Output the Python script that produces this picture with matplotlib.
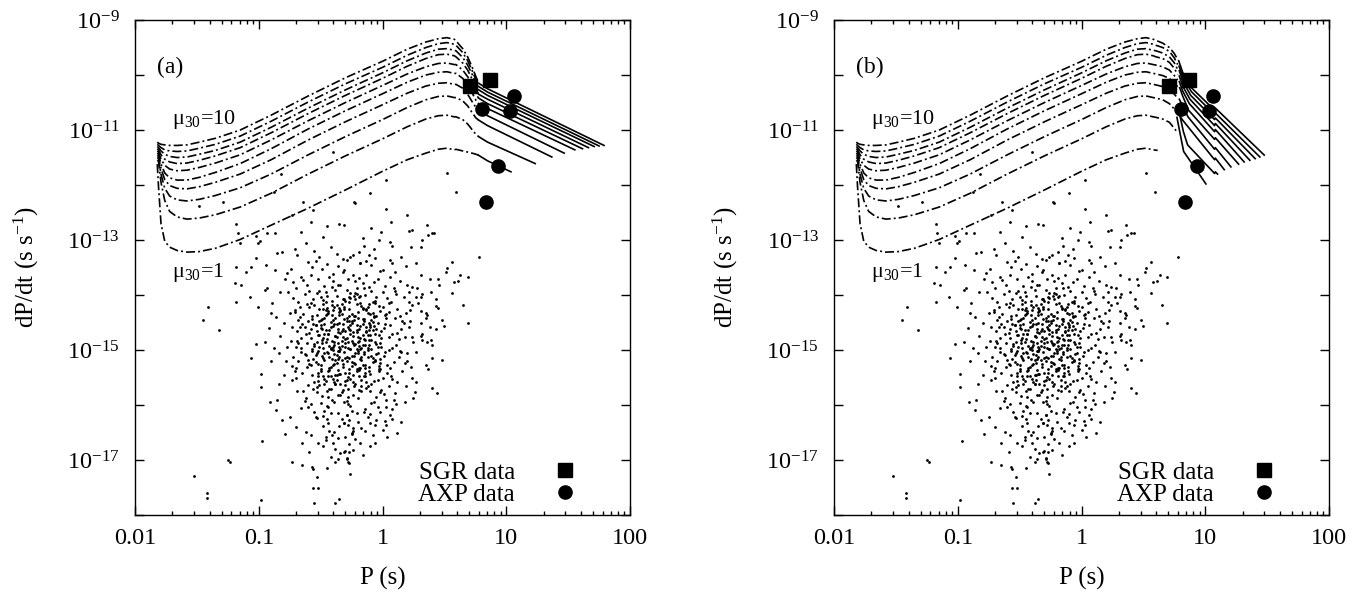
import numpy as np
import matplotlib
matplotlib.use("Agg")
import matplotlib.pyplot as plt
from matplotlib.lines import Line2D
from matplotlib.ticker import FixedLocator, LogLocator, NullFormatter, NullLocator

# Times-like text, as in the gnuplot/postscript original
plt.rcParams['font.family'] = ['Liberation Serif', 'DejaVu Serif']
plt.rcParams['mathtext.fontset'] = 'custom'
plt.rcParams['mathtext.rm'] = 'Liberation Serif'
plt.rcParams['mathtext.it'] = 'Liberation Serif:italic'
plt.rcParams['lines.scale_dashes'] = False

# ---------------- radio pulsars (log10 P [s], log10 Pdot) ----------------
psr_logp = [
    -1.52, -1.42, -1.42, -1.25, -1.23, -1.41, -1.45, -1.32, -1.18, -1.18,
    -1.18, -1.29, -1.48, -1.17, -1.01, -1.15, -1.10, -1.06, -1.02, -1.14,
    -1.07, -1.19, -0.95, -0.93, -1.01, -0.90, -0.89, -1.02, -0.88, -0.77,
    -0.79, -0.72, -0.85, -0.81, -0.69, -1.02, -0.87, -0.93, -0.99, -1.06,
    -0.98, -0.98, -0.90, -0.98, -0.97, -0.85, -0.86, -0.81, -0.79, -0.75,
    -0.73, -0.84, -0.40, -0.82, -0.88, -0.64, -0.56, -0.23, -0.10, 0.03,
    0.03, -0.73, -0.58, -0.35, 0.07, -0.09, 0.52, 0.59, 0.78, 0.20,
    0.36, 0.24, 0.40, 0.32, 0.23, 0.31, -0.01, 0.06, -0.22, -0.31,
    0.21, 0.42, 0.37, -0.16, -0.03, 0.08, -0.15, -0.07, -0.19, -0.24,
    -0.11, 0.15, 0.06, -0.29, -0.32, -0.26, 0.08, 0.19, 0.27, 0.56,
    0.52, -0.18, -0.13, -0.09, -0.06, 0.00, -0.02, 0.10, 0.31, 0.51,
    0.63, 0.69, 0.58, 0.61, 0.45, 0.38, 0.46, 0.20, 0.24, 0.28,
    0.32, 0.39, 0.56, 0.43, 0.31, 0.27, 0.29, 0.43, 0.45, 0.65,
    0.69, 0.50, 0.48, 0.43, 0.36, 0.35, 0.31, 0.35, 0.31, 0.38,
    0.39, 0.32, 0.31, 0.24, 0.32, 0.36, 0.40, 0.27, 0.40, 0.48,
    0.40, 0.44, 0.27, 0.35, 0.37, 0.25, 0.26, 0.11, 0.08, 0.03,
    -0.28, -0.29, -0.31, -0.24, -0.27, -0.18, -0.06, 0.04, -0.25, -0.17,
    -0.24, -0.06, 0.03, -0.31, -0.10, -0.05, 0.02, -0.27, 0.06, -0.29,
    -0.21, -0.15, -0.10, -0.65, -0.62, -0.65, -0.59, -0.57, -0.56, -0.53,
    -0.56, -0.52, -0.55, -0.38, -0.35, -0.45, -0.38, -0.36, -0.34, -0.30,
    -0.29, -0.27, -0.27, -0.24, -0.52, -0.48, -0.46, -0.46, -0.40, -0.36,
    -0.39, -0.43, -0.35, -0.31, -0.28, -0.25, -0.29, -0.53, -0.54, -0.48,
    -0.45, -0.44, -0.71, -0.62, -0.55, -0.48, -0.42, -0.37, -0.66, -0.51,
    -0.45, -0.60, -0.41, -0.33, -0.20, -0.14, -0.08, 0.00, -0.36, -0.12,
    -0.02, -0.48, -0.38, -0.22, -0.16, 0.08, 0.12, -0.30, -0.42, -0.10,
    -0.26, -0.66, -0.70, 0.15, 0.18, -0.58, -0.80, -0.83, -0.78, -0.76,
    -0.92, -0.86, -0.84, -0.95, -0.80, -0.87, -0.91, -0.83, -0.94, -0.77,
    -0.74, -0.70, -0.66, -0.61, -0.57, -0.72, -0.68, -0.63, -0.59, -0.56,
    -0.75, -0.71, -0.67, -0.64, -0.60, -0.73, -0.69, -0.65, -0.62, -0.58,
    -0.74, -0.70, -0.66, -0.61, -0.57, -0.72, -0.68, -0.63, -0.59, -0.56,
    -0.73, -0.70, -0.70, -0.69, -0.60, -0.60, -0.58, -0.56, -0.65, -0.62,
    -0.67, -0.63, -0.58, -0.71, -0.66, -0.61, -0.57, -0.64, -0.59, -0.68,
    -0.54, -0.49, -0.45, -0.40, -0.36, -0.52, -0.47, -0.43, -0.38, -0.53,
    -0.50, -0.46, -0.41, -0.37, -0.55, -0.51, -0.48, -0.44, -0.39, -0.35,
    -0.53, -0.49, -0.45, -0.42, -0.38, -0.54, -0.50, -0.47, -0.43, -0.40,
    -0.36, -0.52, -0.48, -0.44, -0.41, -0.37, -0.55, -0.51, -0.46, -0.42,
    -0.39, -0.35, -0.53, -0.49, -0.45, -0.41, -0.37, -0.54, -0.50, -0.47,
    -0.43, -0.39, -0.36, -0.52, -0.48, -0.44, -0.40, -0.37, -0.55, -0.51,
    -0.46, -0.42, -0.38, -0.53, -0.49, -0.45, -0.41, -0.36, -0.50, -0.44,
    -0.39, -0.47, -0.42, -0.51, -0.46, -0.40, -0.48, -0.43, -0.38, -0.52,
    -0.45, -0.41, -0.49, -0.37, -0.44, -0.50, -0.40, -0.47, -0.36, -0.53,
    -0.18, -0.31, -0.24, -0.16, -0.28, -0.21, -0.34, -0.19, -0.26, -0.30,
    -0.22, -0.33, -0.17, -0.27, -0.20, -0.35, -0.23, -0.15, -0.29, -0.25,
    -0.32, -0.18, -0.27, -0.21, -0.34, -0.16, -0.24, -0.30, -0.19, -0.28,
    -0.22, -0.33, -0.17, -0.26, -0.31, -0.20, -0.25, -0.35, -0.18, -0.29,
    -0.23, -0.16, -0.32, -0.27, -0.21, -0.34, -0.19, -0.26, -0.30, -0.22,
    -0.17, -0.28, -0.33, -0.24, -0.20, -0.31, -0.26, -0.18, -0.29, -0.23,
    -0.15, -0.34, -0.21, -0.27, -0.32, -0.19, -0.25, -0.30, -0.16, -0.22,
    -0.28, -0.35, -0.20, -0.24, -0.31, -0.17, -0.26, -0.33, -0.21, -0.29,
    -0.23, -0.18, -0.27, -0.32, -0.19, -0.25, -0.30, -0.16, -0.22, -0.34,
    -0.13, -0.04, 0.02, -0.09, -0.14, 0.04, -0.06, -0.11, 0.00, -0.02,
    -0.12, -0.07, 0.03, -0.15, -0.04, -0.10, 0.01, -0.08, -0.13, -0.03,
    0.05, -0.11, -0.06, -0.14, -0.01, -0.09, 0.02, -0.05, -0.12, -0.02,
    -0.08, 0.04, -0.14, -0.03, -0.10, 0.00, -0.07, -0.12, -0.01, -0.05,
    -0.13, -0.06, 0.01, -0.09, -0.02, -0.11, 0.03, -0.04, -0.15, -0.08,
    -0.01, -0.12, -0.05, 0.04, -0.10, -0.03, -0.07, 0.02, -0.14, -0.06,
    -0.11, 0.00, -0.04, -0.09, 0.05, -0.02, -0.13, -0.07, 0.01, -0.10,
    0.06, 0.14, 0.21, 0.09, 0.17, 0.24, 0.07, 0.12, 0.19, 0.10,
    0.22, 0.06, 0.15, 0.08, 0.18, 0.25, 0.11, 0.05, 0.20, 0.13,
    0.09, 0.23, 0.16, 0.07, 0.12, 0.19, 0.10, 0.14, 0.08, 0.21,
    0.06, 0.17, 0.11, 0.24, 0.13, 0.05, 0.20, 0.09, 0.15, 0.22,
    -0.58, -0.44, -0.31, -0.12, -0.49, -0.27, -0.05, -0.38, -0.21, -0.55,
    -0.33, -0.16, -0.47, -0.25, -0.09, -0.40, -0.60, -0.19, -0.36, -0.02,
    -0.52, -0.29, -0.14, -0.43, -0.23, -0.57, -0.07, -0.34, -0.46, -0.18,
    -0.39, -0.26, -0.51, -0.11, -0.30, -0.42, -0.20, -0.04, -0.35, -0.48,
    -0.24, -0.13, -0.56, -0.37, -0.28, -0.45, -0.15, -0.32, -0.01, -0.50,
    -0.41, -0.22, -0.06, -0.34, -0.53, -0.17, -0.29, -0.44, -0.10, -0.37,
    -0.27, -0.48, -0.19, -0.39, -0.08, -0.31, -0.59, -0.14, -0.25, -0.43,
    -0.35, -0.21, -0.47, -0.03, -0.30, -0.12, -0.54, -0.38, -0.17, -0.26,
    -0.45, -0.32, -0.09, -0.23, -0.40, -0.57, -0.13, -0.28, -0.50, -0.20,
    -0.36, -0.16, -0.42, -0.05, -0.27, -0.52, -0.33, -0.11, -0.46, -0.24,
    -0.68, -0.07, 0.12, -0.62, 0.18, -0.71, 0.08, -0.66, 0.21, -0.64,
    0.02, -0.69, 0.14, -0.61, 0.05, -0.73, 0.16, -0.63, 0.10, -0.67,
    -0.14, -0.45, -0.28, 0.03, -0.51, -0.19, -0.36, -0.04, -0.58, -0.25,
    -0.40, -0.09, -0.32, -0.55, -0.15, -0.44, -0.21, -0.02, -0.48, -0.30,
    -0.37, -0.11, -0.26, -0.53, -0.18, -0.42, -0.06, -0.34, -0.22, -0.47,
    -0.29, -0.13, -0.39, -0.57, -0.20, -0.35, -0.08, -0.44, -0.27, -0.16,
    -0.49, -0.23, -0.38, -0.12, -0.31, -0.54, -0.19, -0.41, -0.03, -0.28,
    -0.33, -0.17, -0.46, -0.24, -0.10, -0.38, -0.52, -0.14, -0.30, -0.43,
    -0.21, -0.36, -0.05, -0.47, -0.26, -0.15, -0.40, -0.32, -0.58, -0.11,
    -0.25, -0.42, -0.08, -0.35, -0.18, -0.50, -0.29, -0.13, -0.39, -0.22,
]
psr_logpdot = [
    -17.29, -17.60, -17.69, -17.00, -17.04, -14.22, -14.45, -14.64, -14.13, -13.49,
    -12.71, -12.30, -12.38, -12.87, -13.06, -13.05, -13.58, -13.49, -13.33, -13.82,
    -14.03, -13.79, -13.91, -13.87, -14.21, -14.33, -14.15, -14.89, -14.96, -13.60,
    -13.71, -13.76, -13.24, -13.22, -13.27, -12.93, -12.88, -12.87, -13.01, -15.15,
    -15.44, -15.67, -15.20, -17.73, -16.65, -15.91, -16.09, -16.27, -16.53, -16.22,
    -17.04, -15.62, -11.40, -11.80, -12.12, -12.30, -12.46, -12.30, -12.15, -11.90,
    -12.44, -12.55, -12.67, -12.71, -12.67, -12.79, -11.78, -12.13, -13.31, -12.55,
    -12.73, -12.82, -12.87, -13.00, -13.12, -13.13, -12.85, -13.03, -12.33, -12.72,
    -12.83, -12.88, -12.91, -12.97, -13.00, -13.10, -13.11, -13.16, -13.22, -13.27,
    -13.27, -13.31, -13.36, -13.36, -13.35, -13.31, -13.41, -13.47, -13.42, -13.40,
    -13.50, -13.42, -13.39, -13.45, -13.33, -13.54, -13.56, -13.59, -13.64, -13.58,
    -13.64, -13.67, -13.76, -13.74, -13.70, -13.71, -13.82, -13.82, -13.85, -13.88,
    -13.99, -13.94, -13.97, -14.08, -14.03, -14.03, -14.14, -14.20, -14.24, -14.18,
    -14.51, -14.56, -14.45, -14.62, -14.36, -14.33, -14.29, -14.42, -14.50, -14.58,
    -14.82, -14.70, -14.75, -14.76, -14.82, -14.85, -14.91, -15.04, -15.15, -15.18,
    -15.69, -15.79, -15.58, -15.27, -15.35, -15.87, -15.76, -15.99, -16.07, -16.04,
    -17.04, -16.97, -16.86, -16.82, -16.86, -16.69, -16.69, -16.58, -16.53, -16.42,
    -16.42, -16.36, -16.36, -16.33, -16.33, -16.27, -16.29, -16.27, -16.18, -16.18,
    -16.15, -16.12, -16.16, -17.09, -16.49, -16.69, -16.86, -17.13, -17.17, -17.31,
    -17.51, -17.51, -17.78, -17.78, -17.71, -17.15, -17.04, -16.98, -16.87, -16.84,
    -16.98, -17.06, -16.71, -16.47, -16.69, -16.75, -16.64, -16.58, -16.69, -16.60,
    -16.49, -16.47, -16.38, -16.33, -16.36, -16.51, -16.18, -16.24, -16.22, -16.20,
    -16.25, -16.33, -13.16, -13.05, -13.20, -12.95, -13.12, -13.25, -12.85, -13.30,
    -12.75, -13.40, -16.55, -16.25, -16.30, -16.48, -16.55, -16.45, -16.15, -16.22,
    -16.12, -16.38, -16.80, -16.62, -16.90, -16.25, -16.50, -16.58, -16.95, -16.75,
    -17.25, -16.05, -16.40, -16.30, -15.95, -16.55, -14.50, -14.75, -15.20, -13.95,
    -14.60, -14.40, -15.05, -14.85, -15.45, -13.55, -15.95, -13.95, -13.45, -14.95,
    -13.52, -13.88, -13.67, -13.81, -13.49, -14.05, -14.12, -13.98, -14.21, -14.07,
    -14.33, -14.27, -14.40, -14.35, -14.48, -14.58, -14.66, -14.52, -14.71, -14.62,
    -14.83, -14.95, -14.78, -14.88, -15.01, -15.12, -15.20, -15.07, -15.25, -15.16,
    -15.55, -15.51, -15.33, -15.75, -15.64, -16.04, -15.98, -15.70, -15.42, -15.87,
    -14.21, -14.59, -14.79, -15.38, -15.03, -15.31, -15.46, -13.73, -13.92, -14.87,
    -13.38, -13.52, -13.44, -13.61, -13.47, -13.71, -13.83, -13.68, -13.90, -13.97,
    -14.04, -13.95, -14.10, -14.02, -14.18, -14.25, -14.16, -14.29, -14.22, -14.31,
    -14.37, -14.44, -14.35, -14.49, -14.41, -14.55, -14.60, -14.52, -14.64, -14.57,
    -14.68, -14.72, -14.79, -14.70, -14.83, -14.76, -14.89, -14.94, -14.86, -14.98,
    -14.91, -15.02, -15.06, -15.11, -15.04, -15.16, -15.09, -15.22, -15.28, -15.19,
    -15.33, -15.25, -15.37, -15.41, -15.47, -15.39, -15.53, -15.45, -15.58, -15.63,
    -15.56, -15.70, -15.62, -15.77, -15.84, -15.75, -15.91, -15.81, -15.97, -16.03,
    -15.94, -16.10, -16.14, -14.47, -14.63, -14.45, -14.97, -15.13, -15.18, -15.01,
    -14.24, -14.37, -14.81, -14.53, -15.48, -15.34, -15.00, -14.41, -14.87, -14.66,
    -13.41, -13.55, -13.63, -13.79, -13.70, -13.88, -13.82, -14.03, -13.97, -14.11,
    -14.08, -14.17, -14.20, -14.26, -14.31, -14.36, -14.39, -14.44, -14.42, -14.50,
    -14.53, -14.57, -14.61, -14.64, -14.69, -14.72, -14.75, -14.80, -14.83, -14.86,
    -14.89, -14.93, -14.96, -14.99, -15.03, -15.06, -15.10, -15.13, -15.17, -15.20,
    -15.24, -15.28, -15.31, -15.35, -15.39, -15.44, -15.48, -15.52, -15.57, -15.61,
    -15.66, -15.71, -15.76, -15.82, -15.88, -15.95, -16.02, -14.14, -14.48, -14.91,
    -15.08, -14.28, -14.67, -15.15, -14.77, -15.33, -14.34, -15.41, -14.52, -15.26,
    -14.59, -15.02, -14.85, -15.46, -14.21, -15.54, -14.70, -15.19, -14.98, -13.90,
    -14.45, -14.79, -14.04, -14.62, -15.72, -15.29, -14.94, -14.25, -13.74, -15.62,
    -13.64, -13.71, -13.83, -13.92, -14.00, -14.06, -14.10, -14.17, -14.22, -14.29,
    -14.33, -14.38, -14.42, -14.47, -14.51, -14.55, -14.60, -14.64, -14.68, -14.73,
    -14.77, -14.81, -14.85, -14.90, -14.94, -14.98, -15.03, -15.07, -15.12, -15.17,
    -15.22, -15.27, -15.33, -15.38, -15.44, -15.50, -15.57, -15.65, -15.73, -15.85,
    -14.25, -14.70, -15.10, -14.45, -14.88, -15.30, -14.35, -15.55, -14.80, -14.12,
    -14.66, -15.00, -14.03, -15.42, -15.75, -14.20, -15.95, -14.53, -15.48, -15.20,
    -13.85, -13.95, -14.95, -15.62, -14.15, -15.35, -14.58, -14.40, -15.80, -14.72,
    -13.68, -13.75, -13.95, -13.87, -14.04, -14.18, -14.12, -14.26, -14.33, -14.41,
    -14.47, -14.55, -14.62, -14.70, -14.77, -14.85, -14.91, -15.00, -15.06, -15.13,
    -15.22, -15.30, -15.38, -15.47, -15.58, -15.66, -15.79, -14.38, -14.96, -14.58,
    -15.33, -14.50, -13.99, -15.50, -14.80, -14.30, -15.20, -15.90, -15.03, -14.27,
    -14.15, -14.33, -14.08, -14.21, -14.62, -14.47, -14.38, -14.74, -14.55, -14.92,
    -14.66, -14.91, -15.05, -14.83, -15.11, -15.27, -15.19, -15.36, -15.02, -15.24,
    -15.48, -15.55, -15.42, -15.71, -15.66, -14.44, -14.57, -14.29, -14.12, -14.02,
    -14.86, -14.98, -14.73, -14.64, -15.14, -15.31, -14.41, -15.06, -15.43, -15.15,
    -15.59, -14.27, -14.52, -14.19, -14.96, -14.80, -15.47, -14.07, -14.79, -15.38,
    -13.86, -13.97, -14.14, -15.81, -15.67, -15.75, -15.93, -14.70, -14.35, -15.54,
    -14.39, -14.09, -14.61, -15.07, -14.49, -14.26, -14.69, -15.28, -15.21, -14.93,
    -14.50, -14.17, -15.62, -15.34, -14.88, -14.73, -15.09, -15.45, -15.13, -14.63,
    -14.01, -15.26, -14.81, -14.02, -14.28, -14.98, -15.69, -15.85, -14.54, -15.01,
    -15.17, -14.43, -14.96, -14.61, -14.12, -15.56, -14.84, -15.39, -14.36, -14.87,
    -14.45, -13.77, -14.69, -15.09, -15.24, -14.31, -15.52, -14.97, -14.12, -15.74,
    -14.37, -14.83, -15.01, -14.16, -15.66, -15.29, -14.48, -15.93, -13.92, -14.58,
    -16.08, -16.02, -15.98, -15.91, -13.93, -13.69, -13.81, -16.04, -13.64, -16.11,
    -13.75, -15.97, -13.58, -16.12, -13.88, -15.86, -13.99, -15.77, -14.26, -14.66,
    -15.23, -14.91, -14.54, -14.85, -15.33, -14.59, -15.18, -14.99, -15.05, -14.71,
    -14.79, -15.58, -14.53, -14.39, -14.76, -14.95, -14.32, -15.05, -15.41, -14.23,
    -14.88, -15.11, -15.62, -14.97, -14.43, -14.55, -14.92, -14.18, -15.29, -15.49,
    -14.34, -15.19, -14.27, -14.68, -14.58, -14.74, -15.25, -14.81, -15.64, -15.36,
    -15.34, -14.62, -14.89, -15.52, -14.06, -15.03, -14.94, -15.73, -15.27, -14.51,
    -14.48, -15.47, -15.15, -14.23, -14.99, -14.46, -15.12, -14.65, -15.59, -14.39,
]
assert len(psr_logp) == len(psr_logpdot)

# ---------------- magnetars ----------------
sgr_p = [5.1, 7.4]
sgr_pdot = [6.2e-11, 8.2e-11]
axp_p = [11.5, 6.35, 10.7, 8.5, 6.9]
axp_pdot = [4.2e-11, 2.45e-11, 2.25e-11, 2.2e-12, 5.0e-13]

# ---------------- evolutionary tracks, mu30 = 10 ... 1 ----------------
mu_values = [10, 9, 8, 7, 6, 5, 4, 3, 2, 1]

# common dash-dot (spin-up / equilibrium) part, read on a log P grid
rise_logp = [-1.82, -1.81, -1.79, -1.76, -1.72, -1.66, -1.58, -1.48, -1.35, -1.15,
             -0.90, -0.60, -0.30, 0.00, 0.20, 0.35, 0.45, 0.52, 0.58]
rise_mu10 = [-11.22, -11.24, -11.26, -11.27, -11.28, -11.28, -11.27, -11.22, -11.15, -11.00,
             -10.73, -10.38, -10.05, -9.75, -9.53, -9.40, -9.34, -9.32, -9.35]
rise_mu9 = [-11.26, -11.28, -11.32, -11.36, -11.38, -11.39, -11.38, -11.33, -11.26, -11.11,
            -10.84, -10.49, -10.16, -9.86, -9.64, -9.50, -9.43, -9.41, -9.44]
rise_mu8 = [-11.30, -11.32, -11.38, -11.44, -11.48, -11.50, -11.49, -11.44, -11.37, -11.22,
            -10.95, -10.60, -10.27, -9.96, -9.74, -9.60, -9.53, -9.52, -9.55]
rise_mu7 = [-11.34, -11.36, -11.45, -11.53, -11.58, -11.61, -11.60, -11.55, -11.47, -11.32,
            -11.05, -10.70, -10.37, -10.06, -9.84, -9.70, -9.63, -9.62, -9.65]
rise_mu6 = [-11.38, -11.40, -11.53, -11.64, -11.71, -11.74, -11.73, -11.68, -11.60, -11.45,
            -11.18, -10.83, -10.50, -10.19, -9.98, -9.85, -9.79, -9.78, -9.81]
rise_mu5 = [-11.42, -11.44, -11.62, -11.78, -11.87, -11.91, -11.91, -11.86, -11.77, -11.61,
            -11.34, -10.98, -10.65, -10.34, -10.13, -10.00, -9.95, -9.94, -9.97]
rise_mu4 = [-11.46, -11.48, -11.70, -11.90, -12.01, -12.06, -12.07, -12.03, -11.95, -11.80,
            -11.54, -11.18, -10.85, -10.54, -10.33, -10.20, -10.15, -10.14, -10.17]
rise_mu3 = [-11.50, -11.52, -11.80, -12.06, -12.20, -12.27, -12.29, -12.26, -12.19, -12.05,
            -11.80, -11.45, -11.12, -10.81, -10.59, -10.45, -10.39, -10.38, -10.41]
rise_mu2 = [-11.55, -11.57, -11.95, -12.28, -12.48, -12.58, -12.62, -12.60, -12.54, -12.40,
            -12.15, -11.80, -11.47, -11.16, -10.94, -10.80, -10.74, -10.73, -10.76]
rise_mu1 = [-11.62, -12.03, -12.70, -13.02, -13.13, -13.19, -13.22, -13.21, -13.15, -12.99,
            -12.73, -12.42, -12.09, -11.75, -11.54, -11.42, -11.35, -11.33, -11.36]
rise_curves = [rise_mu10, rise_mu9, rise_mu8, rise_mu7, rise_mu6,
               rise_mu5, rise_mu4, rise_mu3, rise_mu2, rise_mu1]

# panel (a): dash-dot drop after the peak, then solid spin-down line
desc_a_logp = [0.594, 0.648, 0.688, 0.723, 0.755, 0.777]
desc_a_mu10 = [-9.38, -9.52, -9.67, -9.85, -10.03, -10.15]
desc_a_mu9 = [-9.46, -9.59, -9.74, -9.91, -10.09, -10.21]
desc_a_mu8 = [-9.56, -9.68, -9.82, -9.98, -10.16, -10.27]
desc_a_mu7 = [-9.67, -9.78, -9.91, -10.07, -10.24, -10.35]
desc_a_mu6 = [-9.81, -9.91, -10.03, -10.18, -10.35, -10.42]
desc_a_mu5 = [-9.97, -10.06, -10.18, -10.32, -10.46, -10.52]
desc_a_mu4 = [-10.17, -10.24, -10.35, -10.48, -10.59, -10.64]
desc_a_mu3 = [-10.41, -10.47, -10.56, -10.68, -10.78, -10.82]
desc_a_mu2 = [-10.76, -10.81, -10.89, -10.99, -11.08, -11.12]
desc_a_mu1 = [-11.35, -11.38, -11.40, -11.42, -11.44, -11.46]
desc_a_curves = [desc_a_mu10, desc_a_mu9, desc_a_mu8, desc_a_mu7, desc_a_mu6,
                 desc_a_mu5, desc_a_mu4, desc_a_mu3, desc_a_mu2, desc_a_mu1]
solid_a_mid_logp = 0.849
solid_a_mid_logpdot = [-10.25, -10.31, -10.37, -10.44, -10.52, -10.61, -10.74, -10.92, -11.22, -11.56]
solid_a_end_logp = [1.790, 1.750, 1.710, 1.664, 1.616, 1.554, 1.468, 1.368, 1.234, 1.038]
solid_a_end_logpdot = [-11.28, -11.29, -11.30, -11.32, -11.34, -11.36, -11.42, -11.49, -11.61, -11.76]

# panel (b): dash-dot drop, then steeper solid lines with a small jump near P ~ 12 s
desc_b_logp = [0.602, 0.656, 0.710, 0.750, 0.777]
desc_b_mu10 = [-9.37, -9.42, -9.50, -9.61, -9.72]
desc_b_mu9 = [-9.46, -9.50, -9.57, -9.69, -9.81]
desc_b_mu8 = [-9.56, -9.60, -9.67, -9.78, -9.90]
desc_b_mu7 = [-9.67, -9.70, -9.77, -9.88, -9.99]
desc_b_mu6 = [-9.82, -9.85, -9.91, -10.01, -10.09]
desc_b_mu5 = [-9.98, -10.01, -10.06, -10.15, -10.21]
desc_b_mu4 = [-10.18, -10.21, -10.26, -10.35, -10.42]
desc_b_mu3 = [-10.42, -10.45, -10.52, -10.62, -10.71]
desc_b_mu2 = [-10.77, -10.80, -10.86, -10.97, -11.05]
desc_b_mu1_logp = [0.615]
desc_b_mu1 = [-11.37]

solid_b_mu10 = ([0.785, 0.817, 0.892, 1.075, 1.081, 1.476], [-9.74, -9.95, -10.24, -10.64, -10.60, -11.455])
solid_b_mu9 = ([0.788, 0.817, 0.887, 1.075, 1.081, 1.441], [-9.84, -10.03, -10.30, -10.72, -10.69, -11.49])
solid_b_mu8 = ([0.790, 0.817, 0.882, 1.075, 1.081, 1.403], [-9.92, -10.11, -10.37, -10.81, -10.78, -11.52])
solid_b_mu7 = ([0.790, 0.817, 0.876, 1.075, 1.081, 1.360], [-10.02, -10.20, -10.44, -10.92, -10.88, -11.55])
solid_b_mu6 = ([0.790, 0.817, 0.871, 1.075, 1.081, 1.314], [-10.12, -10.29, -10.52, -11.03, -10.99, -11.58])
solid_b_mu5 = ([0.793, 0.817, 0.865, 1.075, 1.081, 1.269], [-10.23, -10.38, -10.64, -11.17, -11.14, -11.62])
solid_b_mu4 = ([0.790, 0.817, 0.860, 1.075, 1.081, 1.207], [-10.44, -10.56, -10.76, -11.35, -11.32, -11.67])
solid_b_mu3 = ([0.790, 0.817, 0.860, 1.075, 1.081, 1.153], [-10.73, -10.82, -10.94, -11.54, -11.51, -11.72])
solid_b_mu2 = ([0.798, 0.823, 0.857, 1.075, 1.081, 1.099], [-10.77, -11.03, -11.27, -11.79, -11.76, -11.80])
solid_b_mu1 = ([0.771, 0.796, 0.825, 1.005], [-10.77, -11.06, -11.39, -11.98])

desc_b_curves = [(desc_b_logp, desc_b_mu10), (desc_b_logp, desc_b_mu9), (desc_b_logp, desc_b_mu8),
                 (desc_b_logp, desc_b_mu7), (desc_b_logp, desc_b_mu6), (desc_b_logp, desc_b_mu5),
                 (desc_b_logp, desc_b_mu4), (desc_b_logp, desc_b_mu3), (desc_b_logp, desc_b_mu2),
                 (desc_b_mu1_logp, desc_b_mu1)]
solid_b_curves = [solid_b_mu10, solid_b_mu9, solid_b_mu8, solid_b_mu7, solid_b_mu6,
                  solid_b_mu5, solid_b_mu4, solid_b_mu3, solid_b_mu2, solid_b_mu1]

x_ticks = [0.01, 0.1, 1, 10, 100]
x_ticklabels = ['0.01', '0.1', '1', '10', '100']
y_exponents = list(range(-18, -8))

FS_TICK = 17.5
FS_LABEL = 18
DASHDOT = (0, (6.5, 2.2, 1.4, 2.2))


def setup_axes(ax, tag):
    ax.set_xscale('log')
    ax.set_yscale('log')
    ax.set_xlim(0.01, 100)
    ax.set_ylim(1e-18, 1e-9)
    ax.xaxis.set_major_locator(FixedLocator(x_ticks))
    ax.set_xticklabels(x_ticklabels)
    ax.xaxis.set_minor_locator(LogLocator(base=10, subs=np.arange(2, 10)))
    ax.xaxis.set_minor_formatter(NullFormatter())
    ax.yaxis.set_major_locator(FixedLocator([10.0 ** e for e in y_exponents]))
    ax.set_yticklabels([r'$10^{%d}$' % e if e % 2 else '' for e in y_exponents])
    ax.yaxis.set_minor_locator(NullLocator())
    ax.tick_params(which='both', direction='in', top=True, right=True, width=1.0)
    ax.tick_params(which='major', length=6.5, labelsize=FS_TICK)
    ax.tick_params(which='minor', length=3.2)
    ax.tick_params(axis='x', which='major', pad=9)
    ax.tick_params(axis='y', which='major', pad=11)
    for sp in ax.spines.values():
        sp.set_linewidth(1.0)
    ax.set_xlabel('P (s)', fontsize=FS_LABEL)
    ax.set_ylabel('dP/dt (s s$^{-1}$)', fontsize=FS_LABEL)
    ax.xaxis.set_label_coords(0.5, -0.105)
    ax.yaxis.set_label_coords(-0.19, 0.5)
    ax.text(0.045, 0.905, tag, transform=ax.transAxes, fontsize=17, va='center')
    ax.text(0.075, 0.80, 'μ$_{30}$=10', transform=ax.transAxes, fontsize=16, va='center')
    ax.text(0.075, 0.49, 'μ$_{30}$=1', transform=ax.transAxes, fontsize=16, va='center')


def draw_common(ax):
    ax.plot(10.0 ** np.array(psr_logp), 10.0 ** np.array(psr_logpdot),
            ls='none', marker='o', ms=2.0, mew=0, color='k', zorder=1)


def draw_magnetars(ax):
    ax.plot(sgr_p, sgr_pdot, ls='none', marker='s', ms=9.5, color='k', zorder=5)
    ax.plot(axp_p, axp_pdot, ls='none', marker='o', ms=9.5, color='k', zorder=5)
    h_sgr = Line2D([], [], ls='none', marker='s', ms=9.5, color='k')
    h_axp = Line2D([], [], ls='none', marker='o', ms=9.5, color='k')
    ax.legend([h_sgr, h_axp], ['SGR data', 'AXP data'], loc='lower right',
              bbox_to_anchor=(0.919, 0.018), frameon=False, markerfirst=False,
              handlelength=2.0, handletextpad=1.0, labelspacing=0.0,
              borderpad=0, borderaxespad=0, fontsize=FS_LABEL)


fig = plt.figure(figsize=(13.72, 5.93), dpi=100)
ax_a = fig.add_axes([0.0984, 0.1315, 0.3608, 0.8347])
ax_b = fig.add_axes([0.6079, 0.1315, 0.3608, 0.8347])

# panel (a)
draw_common(ax_a)
for i, mu in enumerate(mu_values):
    lp = rise_logp + desc_a_logp
    lv = rise_curves[i] + desc_a_curves[i]
    ax_a.plot(10.0 ** np.array(lp), 10.0 ** np.array(lv), color='k', lw=1.2, ls=DASHDOT, zorder=3)
    sp = [desc_a_logp[-1], solid_a_mid_logp, solid_a_end_logp[i]]
    sv = [desc_a_curves[i][-1], solid_a_mid_logpdot[i], solid_a_end_logpdot[i]]
    ax_a.plot(10.0 ** np.array(sp), 10.0 ** np.array(sv), color='k', lw=1.2, ls='-', zorder=3)
draw_magnetars(ax_a)
setup_axes(ax_a, '(a)')

# panel (b)
draw_common(ax_b)
for i, mu in enumerate(mu_values):
    dp, dv = desc_b_curves[i]
    lp = rise_logp + dp
    lv = rise_curves[i] + dv
    ax_b.plot(10.0 ** np.array(lp), 10.0 ** np.array(lv), color='k', lw=1.2, ls=DASHDOT, zorder=3)
    sp, sv = solid_b_curves[i]
    ax_b.plot(10.0 ** np.array(sp), 10.0 ** np.array(sv), color='k', lw=1.2, ls='-', zorder=3)
draw_magnetars(ax_b)
setup_axes(ax_b, '(b)')

fig.savefig('out.png', dpi=100)
